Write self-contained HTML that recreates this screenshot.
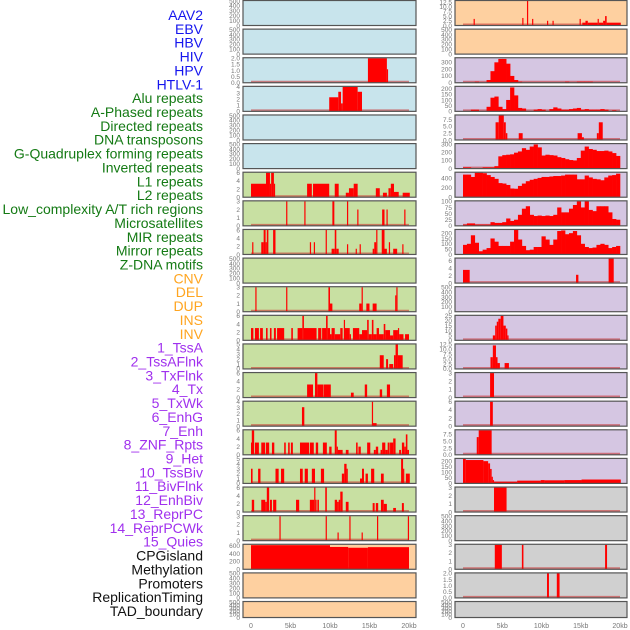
<!DOCTYPE html>
<html><head><meta charset="utf-8"><style>
html,body{margin:0;padding:0;background:#fff;}
svg{display:block;font-family:"Liberation Sans",sans-serif;}
</style></head><body>
<svg id="chart" width="630" height="630" viewBox="0 0 630 630" xmlns="http://www.w3.org/2000/svg"></svg>
<script>
// ---------- labels ----------
const trackLabels = ["AAV2","EBV","HBV","HIV","HPV","HTLV-1","Alu repeats","A-Phased repeats","Directed repeats","DNA transposons","G-Quadruplex forming repeats","Inverted repeats","L1 repeats","L2 repeats","Low_complexity A/T rich regions","Microsatellites","MIR repeats","Mirror repeats","Z-DNA motifs","CNV","DEL","DUP","INS","INV","1_TssA","2_TssAFlnk","3_TxFlnk","4_Tx","5_TxWk","6_EnhG","7_Enh","8_ZNF_Rpts","9_Het","10_TssBiv","11_BivFlnk","12_EnhBiv","13_ReprPC","14_ReprPCWk","15_Quies","CPGisland","Methylation","Promoters","ReplicationTiming","TAD_boundary"];
const labelGroups = ["virus","virus","virus","virus","virus","virus","rep","rep","rep","rep","rep","rep","rep","rep","rep","rep","rep","rep","rep","sv","sv","sv","sv","sv","hmm","hmm","hmm","hmm","hmm","hmm","hmm","hmm","hmm","hmm","hmm","hmm","hmm","hmm","hmm","oth","oth","oth","oth","oth"];
const xTickLabels = ["0","5kb","10kb","15kb","20kb"];
const xTickValues = [0,5,10,15,20];

// ---------- data (segments: [startKb, endKb, value]; bins: 0.5kb each) ----------
const segL3 = [[14.8,17.2,2],[17.2,17.35,1.1]];
const segL4 = [[9.9,11.05,2.3],[11.05,11.4,3.2],[11.4,11.6,1.3],[11.6,13.5,4],[13.5,14.05,3.2]];
const segL7 = [[0,1.9,3.3],[1.9,2.4,6.2],[2.4,2.55,3.3],[2.55,2.9,6.2],[2.9,3.0,3.3],[7.1,7.7,3.3],[7.85,9.9,3.3],[10.6,11.1,3.3],[12.0,12.4,1.1],[12.4,13.0,2.2],[13.0,13.5,3.3],[15.8,16.3,2.2],[16.7,17.2,1.1],[17.4,17.7,2.2],[17.7,18.1,3.3],[18.1,18.7,1.3],[19.2,20.1,1.1]];
const segL8 = [[4.45,4.6,3],[6.75,6.9,3],[10.3,10.55,3],[12.15,12.3,3],[13.45,13.6,2],[16.6,16.9,2],[17.15,17.3,2],[19.4,19.55,2]];
const segL9 = [[0.15,0.3,3],[1.3,1.6,3],[1.6,1.85,6],[1.85,2.0,3],[2.0,2.2,6],[2.8,3.1,6],[7.45,7.6,3],[7.95,8.1,3],[9.45,9.6,6],[10.2,10.6,1.4],[10.6,10.8,6],[10.8,11.1,1.4],[12.15,12.3,2.5],[13.25,13.4,1.4],[13.75,13.9,2.5],[15.4,15.6,1.4],[15.6,15.85,3],[15.85,16.0,6],[16.55,16.9,6],[16.9,17.2,1.4],[17.45,17.6,3],[18.0,18.5,1.4],[19.15,19.3,2.5]];
const segL11 = [[0.55,0.7,3],[4.45,4.6,3],[9.8,10.0,3],[10.0,10.3,1],[13.7,14.0,1],[14.0,14.15,3],[14.6,15.0,1],[15.4,15.9,1],[18.25,18.4,2],[18.4,18.55,3]];
const segL12 = [[0,0.3,3],[0.5,1.0,3],[1.15,1.5,3],[1.9,2.1,3],[2.4,2.6,3],[2.9,3.15,3],[3.3,4.2,3],[5.1,5.3,3],[5.9,6.5,3],[6.5,6.7,6],[6.7,8.3,3],[8.5,8.9,3],[9.0,9.5,3],[9.5,9.7,6],[9.7,10.0,3],[10.0,10.2,1.5],[10.2,10.6,3],[10.6,11.3,1.5],[11.3,11.6,3],[11.75,11.9,5],[11.9,12.5,3],[12.5,12.65,1.5],[12.9,13.7,3],[13.7,14.05,1.5],[14.05,14.7,2.5],[14.7,14.9,5],[14.9,15.3,1.5],[15.3,15.5,5],[15.5,15.9,1.5],[15.9,16.2,3],[16.2,16.8,1.5],[16.8,17.0,4],[17.0,17.6,2.5],[17.6,18.0,1.2],[18.0,18.6,2.5],[18.6,18.75,3],[18.75,19.3,1.5],[19.5,20.0,1.5]];
const segL13 = [[16.3,16.8,2.8],[17.1,17.35,2],[17.5,18.0,1],[18.1,18.3,2.8],[18.3,18.6,5],[18.6,19.2,2.8]];
const segL14 = [[7.1,7.85,3.2],[8.1,8.4,6],[8.4,9.15,3.2],[9.2,10.1,3.2],[12.65,13.0,1.2],[14.4,14.7,3.2],[16.3,16.6,2.0],[17.2,17.6,3.2]];
const segL15 = [[6.45,6.75,3.1],[15.3,15.4,4],[15.4,15.9,0.5]];
const segL16 = [[0,0.1,3],[0.1,0.4,6],[0.5,1.0,3],[1.3,1.8,3],[1.9,2.3,3],[2.65,2.95,3],[4.2,4.4,3],[4.7,4.9,3],[5.05,5.3,3],[6.2,7.35,3],[7.45,7.95,3],[8.2,8.5,3],[9.1,9.6,3],[9.9,10.2,2],[10.6,10.85,6],[10.85,11.0,2],[11.0,11.6,1.2],[12.0,12.35,1.2],[13.3,13.5,3],[13.6,13.9,2],[14.7,15.1,3],[15.55,15.8,1.2],[15.8,16.1,2],[16.4,16.6,1.2],[16.6,17.0,3],[17.0,17.3,1.2],[17.3,17.55,3],[17.6,18.0,3],[18.0,18.3,4],[18.75,19.0,1.2],[19.1,19.4,3],[19.4,19.6,2],[19.6,19.8,5],[19.8,20.0,1.2]];
const segL17 = [[0,0.2,3],[0.9,1.2,3],[3.1,3.5,3],[3.8,4.2,3],[6.2,6.55,3],[6.8,7.2,3],[7.7,8.1,3],[8.85,9.25,3],[11.5,11.8,2],[11.8,12.1,4],[12.1,12.25,3],[13.8,14.05,1],[14.05,14.3,3],[14.5,14.8,2],[15.2,15.6,3],[16.45,16.8,2],[19.0,19.25,5],[19.25,19.35,3],[19.6,20.1,2]];
const segL18 = [[0.1,0.4,3],[1.3,1.8,3],[1.8,2.0,2.5],[2.0,2.3,6],[2.4,2.65,3],[2.8,3.2,3],[5.7,6.1,3],[7.45,8.0,3],[8.0,8.15,6],[8.15,8.3,3],[8.4,8.6,3],[9.4,9.6,6],[10.6,10.9,3],[10.9,11.1,2.5],[11.1,11.3,3],[11.3,11.6,5],[12.0,12.35,2.5],[15.4,15.65,2.2],[15.8,16.1,2.2],[16.45,16.8,3],[16.8,17.2,2],[18.0,18.35,1],[19.1,19.35,2.2]];
const segL19 = [[3.6,3.75,3],[9.45,9.6,3],[12.45,12.6,3],[15.95,16.1,3],[19.85,20.0,3],[10.95,11.1,1],[14.0,14.15,1]];
const segL20 = [[0,10,610],[10,12.3,565],[12.3,14.8,545],[14.8,20.0,560]];
const segR1 = [[1.35,1.5,3.5],[7.55,7.7,4],[8.15,8.3,13],[8.8,8.95,3.5],[10.7,10.85,2.5],[11.4,11.55,2.5],[14.85,15.0,3.5],[15.2,15.6,1.5],[15.6,15.9,2.5],[15.9,17.15,1.5],[17.15,17.3,3.5],[17.3,17.85,1.5],[17.85,18.1,2.5],[18.1,18.3,5],[18.3,20.1,1.5]];
const binR3 = [0,0,0,15,0,0,40,170,300,350,350,280,100,40,15,0,0,0,0,0,0,0,0,0,0,0,15,0,0,15,15,15,15,0,0,0,0,0,0,0];
const binR4 = [0,0,15,15,0,0,40,120,130,40,20,100,210,140,30,25,0,0,15,20,15,0,20,35,25,15,15,20,25,30,15,20,15,15,15,20,15,0,10,0];
const segR5 = [[4.15,4.55,6.5],[4.55,5.2,9],[5.2,5.45,6.5],[5.45,5.65,2.5],[7.1,7.6,2.5],[14.6,15.15,2.5],[15.15,15.4,1],[17.05,17.3,2.5],[17.3,17.8,6.5]];
const binR6 = [15,15,0,0,0,15,15,15,30,150,165,170,175,195,210,250,230,270,295,260,160,170,165,160,140,130,115,105,100,130,220,270,240,230,215,215,220,210,190,155];
const binR7 = [480,480,430,520,520,510,470,430,390,300,290,260,185,180,240,290,340,370,390,410,430,430,440,450,450,460,480,480,480,380,380,460,420,390,380,360,420,460,470,500];
const binR8 = [5,10,10,5,5,5,5,15,12,12,15,30,20,25,45,70,80,45,40,42,40,42,40,45,75,55,55,70,85,100,75,100,65,60,80,80,80,55,28,25];
const binR9 = [90,100,180,110,30,45,60,150,120,80,80,80,120,230,140,80,40,45,70,70,170,140,90,140,220,225,190,200,220,180,100,70,60,65,90,100,90,60,70,80];
const segR10 = [[0,0.85,3.5],[14.4,14.7,2.2],[18.55,19.2,6.5]];
const segR12 = [[3.8,4.1,5],[4.1,4.3,15],[4.3,4.5,19],[4.5,4.8,22],[4.8,5.15,25],[5.15,5.45,15],[5.45,5.65,12],[5.65,5.8,5]];
const segR13 = [[3.5,3.8,6],[3.8,4.2,12],[4.2,4.4,6],[4.4,4.7,3],[5.3,5.85,3]];
const segR14 = [[3.45,3.95,3]];
const segR15 = [[3.45,3.8,6]];
const segR16 = [[1.75,2.0,6.5],[2.0,3.65,9]];
const segR17 = [[0,0.35,220],[0.35,2.6,210],[2.6,3.2,200],[3.2,3.45,180],[3.45,3.65,130],[3.65,3.8,60],[3.8,3.95,30],[3.95,6.9,15],[6.9,9.9,25],[9.9,10.4,30],[10.4,12.9,28],[12.9,15.1,30],[15.1,20.1,35]];
const segR18 = [[3.95,5.55,3]];
const segR20 = [[4.05,4.95,3],[7.5,7.7,3],[18.1,18.35,3]];
const segR21 = [[10.7,10.95,2],[11.95,12.3,2]];

// ---------- tick label arrays ----------
const tEmpty = ["0","100","200","300","400","500"];
const t02 = ["0.0","0.5","1.0","1.5","2.0"];
const t04 = ["0","1","2","3","4"];
const t03 = ["0","1","2","3"];
const t05 = ["0","1","2","3","4","5"];
const t06 = ["0","2","4","6"];
const t600 = ["0","200","400","600"];
const t125 = ["0.0","2.5","5.0","7.5","10.0","12.5"];
const t75 = ["0.0","2.5","5.0","7.5"];
const t300 = ["0","100","200","300"];
const t200 = ["0","50","100","150","200"];
const t400 = ["0","200","400"];
const t100 = ["0","25","50","75","100"];
const t25 = ["0","5","10","15","20","25"];

// panel specs: [column, row, background group, segments, bins, ymax, ticks]
const panelSpecs = [
 [0,0,"virus",null,null,500,tEmpty],[0,1,"virus",null,null,500,tEmpty],[0,2,"virus",segL3,null,2,t02],[0,3,"virus",segL4,null,4,t04],[0,4,"virus",null,null,500,tEmpty],[0,5,"virus",null,null,500,tEmpty],
 [0,6,"rep",segL7,null,6,t06],[0,7,"rep",segL8,null,3,t03],[0,8,"rep",segL9,null,6,t06],[0,9,"rep",null,null,500,tEmpty],[0,10,"rep",segL11,null,3,t03],[0,11,"rep",segL12,null,6,t06],[0,12,"rep",segL13,null,5,t05],[0,13,"rep",segL14,null,6,t06],[0,14,"rep",segL15,null,4,t04],[0,15,"rep",segL16,null,6,t06],[0,16,"rep",segL17,null,5,t05],[0,17,"rep",segL18,null,6,t06],[0,18,"rep",segL19,null,3,t03],
 [0,19,"sv",segL20,null,620,t600],[0,20,"sv",null,null,500,tEmpty],[0,21,"sv",null,null,500,tEmpty],
 [1,0,"sv",segR1,null,13,t125],[1,1,"sv",null,null,500,tEmpty],
 [1,2,"hmm",null,binR3,360,t300],[1,3,"hmm",null,binR4,215,t200],[1,4,"hmm",segR5,null,9,t75],[1,5,"hmm",null,binR6,300,t300],[1,6,"hmm",null,binR7,520,t400],[1,7,"hmm",null,binR8,100,t100],[1,8,"hmm",null,binR9,230,t200],[1,9,"hmm",segR10,null,6.5,t06],[1,10,"hmm",null,null,500,tEmpty],[1,11,"hmm",segR12,null,25,t25],[1,12,"hmm",segR13,null,12.5,t125],[1,13,"hmm",segR14,null,3,t03],[1,14,"hmm",segR15,null,6,t06],[1,15,"hmm",segR16,null,9,t75],[1,16,"hmm",segR17,null,220,t200],
 [1,17,"oth",segR18,null,3,t03],[1,18,"oth",null,null,500,tEmpty],[1,19,"oth",segR20,null,3,t03],[1,20,"oth",segR21,null,2,t02],[1,21,"oth",null,null,500,tEmpty]
];

// ---------- drawing ----------
const NS = "http://www.w3.org/2000/svg";
const svg = document.getElementById("chart");
const labelColors = {virus:"#1515ee",rep:"#147a14",sv:"#ffa520",hmm:"#a030ee",oth:"#111111"};
const bgColors = {virus:"#c8e4ec",rep:"#c8e0a2",sv:"#fed0a0",hmm:"#d5c6e2",oth:"#d0d0d0"};
function mk(tag, attrs, parent){const e=document.createElementNS(NS,tag);for(const k in attrs)e.setAttribute(k,attrs[k]);(parent||svg).appendChild(e);return e;}

const labelGroup = mk("g",{});


trackLabels.forEach((t,i)=>{
  const el = mk("text",{x:203,y:15+i*13.86+5,"text-anchor":"end","font-size":"14",fill:labelColors[labelGroups[i]]},labelGroup);
  el.textContent = t;
  
  
});

const colX = [243,455], colW = [173,172], zeroX = [251,463], pxPerKb = [7.9,7.85];
function xScale(c,kb){return zeroX[c]+kb*pxPerKb[c];}

panelSpecs.forEach((p,idx)=>{
  const [c,r,grp,segs,bins,ymax,ticks]=p;
  const top = 0.5+r*28.62, h = (r===21)?16:25, x0=colX[c], w=colW[c];
  const bottom = top+h;
  const yScale = v => bottom - Math.min(v,ymax)/ymax*(h-0.5);
  const g = mk("g",{});
  
  
  const bg = mk("rect",{x:x0,y:top,width:w,height:h,fill:bgColors[grp],stroke:"none"},g);
  
  
  const hasData = segs||bins;
  if(hasData){
    const base = mk("line",{x1:xScale(c,0),x2:xScale(c,20),y1:bottom-1,y2:bottom-1,stroke:"rgba(200,40,40,0.55)","stroke-width":2},g);
    
    
  }
  if(segs){
    segs.forEach(s=>{
      const xa=xScale(c,s[0]), xb=xScale(c,s[1]);
      const y=yScale(s[2]);
      const b = mk("rect",{x:xa,y:y,width:Math.max(1.2,xb-xa),height:bottom-y,fill:"#ff0000"},g);
      
      
    });
  }
  if(bins){
    bins.forEach((v,i)=>{
      if(v<=0) return;
      const xa=xScale(c,i*0.5), xb=xScale(c,(i+1)*0.5);
      const y=yScale(v);
      const b = mk("rect",{x:xa,y:y,width:xb-xa+0.3,height:bottom-y,fill:"#ff0000"},g);
      
      
    });
  }
  const fr = mk("rect",{x:x0,y:top,width:w,height:h,fill:"none",stroke:"#555","stroke-width":1.2},g);
  
  
  ticks.forEach(t=>{
    const v=parseFloat(t);
    const y=bottom - v/ymax*(h-0.5);
    const tx = mk("text",{x:x0-3,y:y+2.3,"text-anchor":"end","font-size":"6.5",fill:"#777"},g);
    tx.textContent=t;
    
    
  });
});

[0,1].forEach(c=>{
  const g = mk("g",{});
  
  
  xTickValues.forEach((v,i)=>{
    const t = mk("text",{x:xScale(c,v),y:628,"text-anchor":"middle","font-size":"7",fill:"#777"},g);
    t.textContent = xTickLabels[i];
    
    
  });
});
</script>
</body></html>
